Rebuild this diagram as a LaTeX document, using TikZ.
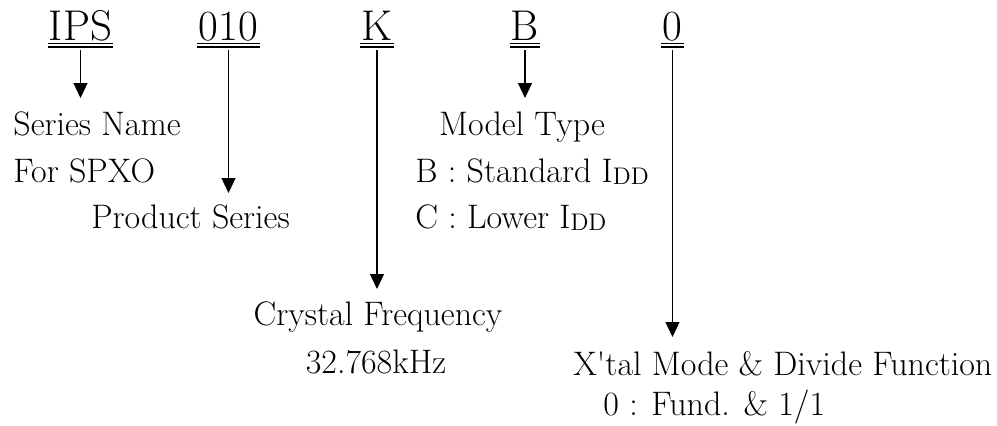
\documentclass[tikz,border=0pt]{standalone}
\usepackage{tikz}
\usetikzlibrary{arrows.meta}
\begin{document}
\begin{tikzpicture}[x=0.5pt,y=-0.5pt]
\tikzstyle{code}=[font=\fontsize{21.5}{25}\selectfont,inner sep=0pt,anchor=base];
\tikzstyle{desc}=[font=\fontsize{17}{20}\selectfont,inner sep=0pt,anchor=base west];
\tikzstyle{uline}=[line width=0.7pt];
\tikzstyle{arr}=[line width=0.6pt,-{Triangle[width=7pt,length=7.5pt]}];
\useasboundingbox (0,0) rectangle (997,425);

\node [code] (ips) at (80.5,40) {IPS};
\node [code] (num) at (228.5,40) {010};
\node [code] (freq) at (377,40) {K};
\node [code] (model) at (525,40) {B};
\node [code] (mode) at (672.5,40) {0};

\foreach \n in {ips,num,freq,model,mode} {
  \draw [uline] ([xshift=-0.5pt,yshift=-1.75pt]\n.base west) -- ([xshift=0.5pt,yshift=-1.75pt]\n.base east);
  \draw [uline] ([xshift=-0.5pt,yshift=-3.5pt]\n.base west) -- ([xshift=0.5pt,yshift=-3.5pt]\n.base east);
}

\coordinate (ipsend) at (80.5,98);
\coordinate (numend) at (228.5,193);
\coordinate (freqend) at (377,289);
\coordinate (modelend) at (525,98);
\coordinate (modeend) at (672.5,337);

\draw [arr] ([yshift=-5pt]ips.base) -- (ipsend);
\draw [arr] ([yshift=-5pt]num.base) -- (numend);
\draw [arr] ([yshift=-5pt]freq.base) -- (freqend);
\draw [arr] ([yshift=-5pt]model.base) -- (modelend);
\draw [arr] ([yshift=-5pt]mode.base) -- (modeend);

\node [desc] (sername) at (13,135) {Series Name};
\node [desc] (forspxo) at (13,182) {For SPXO};
\node [desc,anchor=base] (prodser) at (190.5,228) {Product Series};

\node [desc,anchor=base] (modtype) at (522,135) {Model Type};
\node [desc] (typeb) at (415,182) {B : Standard I\raisebox{-1pt}{\fontsize{12}{13}\selectfont DD}};
\node [desc] (typec) at (415,228) {C : Lower I\raisebox{-1pt}{\fontsize{12}{13}\selectfont DD}};

\node [desc,anchor=base] (cryfreq) at (378,325) {Crystal Frequency};
\node [desc,anchor=base] (freqval) at (376,373) {32.768kHz};

\node [desc] (xtal) at (573,375) {X\textquotesingle tal Mode \& Divide Function};
\node [desc] (fund) at (603,415) {0 : Fund. \& 1/1};
\end{tikzpicture}
\end{document}
